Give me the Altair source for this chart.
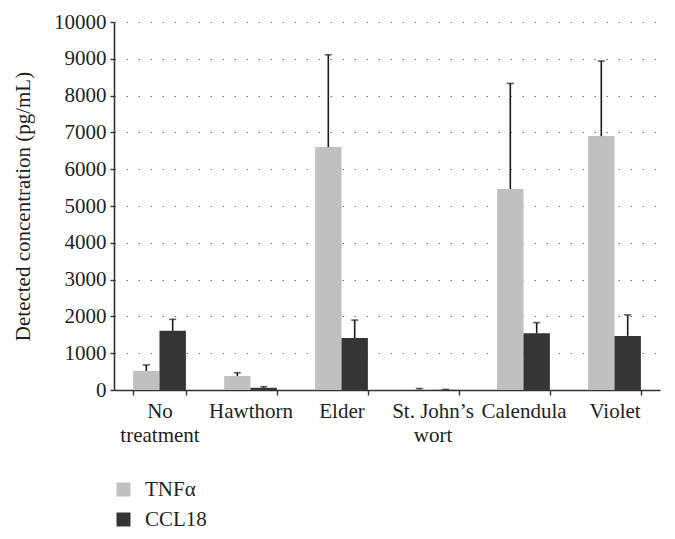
import altair as alt
import pandas as pd

categories = ["No treatment", "Hawthorn", "Elder", "St. John’s wort", "Calendula", "Violet"]
series = ["TNFα", "CCL18"]
tnf_values = [520, 380, 6600, 15, 5460, 6900]
tnf_upper = [680, 470, 9110, 40, 8330, 8940]
ccl_values = [1610, 60, 1410, 5, 1540, 1470]
ccl_upper = [1920, 90, 1900, 15, 1830, 2040]
y_ticks = list(range(0, 10001, 1000))

rows = []
for i, c in enumerate(categories):
    rows.append({"cat": c, "series": series[0], "value": tnf_values[i], "upper": tnf_upper[i]})
    rows.append({"cat": c, "series": series[1], "value": ccl_values[i], "upper": ccl_upper[i]})
df = pd.DataFrame(rows)

FONT = "Liberation Serif, DejaVu Serif, serif"
FS = 21
TXT = "#231f20"

x_axis = alt.Axis(
    title=None,
    labelAngle=0,
    tickBand="extent",
    labelExpr="datum.value == 'No treatment' ? ['No', 'treatment'] : datum.value == 'St. John’s wort' ? ['St. John’s', 'wort'] : datum.value",
    labelLineHeight=24,
    labelPadding=5,
    tickSize=5,
    grid=False,
    labelOverlap=False,
)
x_scale = alt.Scale(paddingInner=0.42, paddingOuter=0.21)
xo_scale = alt.Scale(paddingInner=0, paddingOuter=0)
y_scale = alt.Scale(domain=[0, 10000], nice=False)
y_axis = alt.Axis(
    title="Detected concentration (pg/mL)",
    values=y_ticks,
    format="d",
    labelOverlap=False,
    tickSize=4,
    labelPadding=4,
    titlePadding=20,
    grid=True,
    gridDash=[1.5, 10.5],
    gridColor="#777777",
    gridWidth=1.2,
)


def xe():
    return alt.X("cat:N", sort=categories, scale=x_scale, axis=x_axis)


def xoe():
    return alt.XOffset("series:N", sort=series, scale=xo_scale)


bars = alt.Chart(df).mark_bar().encode(
    x=xe(),
    xOffset=xoe(),
    y=alt.Y("value:Q", scale=y_scale, axis=y_axis),
    color=alt.Color(
        "series:N",
        sort=series,
        scale=alt.Scale(domain=series, range=["#c0c0c0", "#353535"]),
        legend=alt.Legend(
            title=None,
            orient="none",
            legendX=-1,
            legendY=457,
            padding=0,
            symbolType="square",
            symbolSize=196,
            symbolStrokeWidth=0,
            labelFontSize=FS,
            labelFont=FONT,
            labelColor=TXT,
            rowPadding=8,
            labelOffset=11,
            direction="vertical",
        ),
    ),
)

rules = alt.Chart(df).mark_rule(color="#1a1a1a", strokeWidth=1.6).encode(
    x=xe(),
    xOffset=xoe(),
    y=alt.Y("value:Q", scale=y_scale, axis=y_axis),
    y2="upper:Q",
)

caps = alt.Chart(df).mark_tick(color="#1a1a1a", thickness=1.6, size=7).encode(
    x=xe(),
    xOffset=xoe(),
    y=alt.Y("upper:Q", scale=y_scale, axis=y_axis),
)

chart = (
    alt.layer(bars, rules, caps)
    .properties(
        width=546,
        height=368,
        autosize=alt.AutoSizeParams(type="none"),
        padding={"left": 106, "top": 14, "right": 7, "bottom": 140},
    )
    .configure_view(stroke=None)
    .configure_axis(
        labelFont=FONT,
        titleFont=FONT,
        labelFontSize=FS,
        titleFontSize=FS,
        titleFontWeight="normal",
        labelColor=TXT,
        titleColor=TXT,
        domainColor="#333333",
        domainWidth=1.6,
        tickColor="#333333",
        tickWidth=1.4,
    )
    .configure_legend(labelFont=FONT, labelFontSize=FS, labelColor=TXT)
)

chart.save("out.html", embed_options={"renderer": "svg", "actions": False})
